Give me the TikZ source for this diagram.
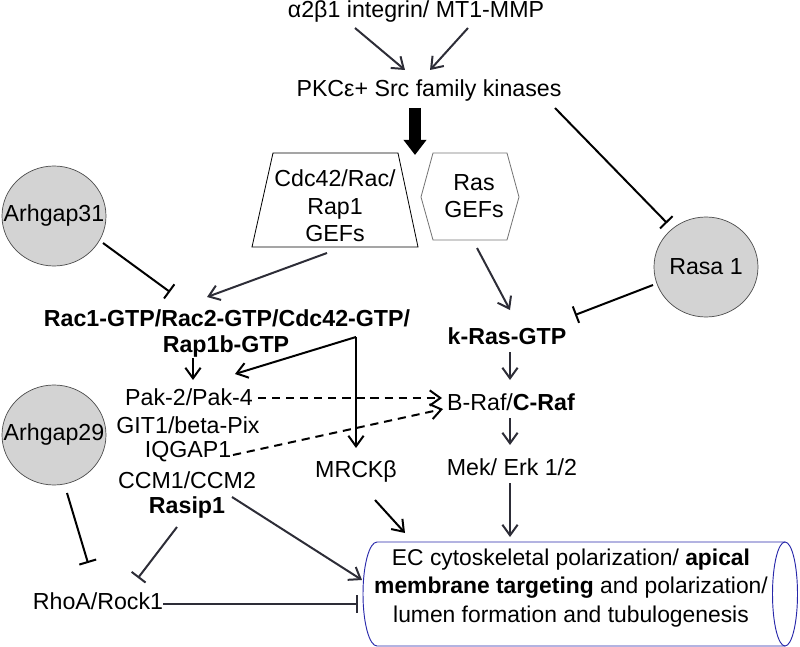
\documentclass[tikz,border=0pt]{standalone}
\usepackage{fontspec}
\setmainfont{Liberation Sans}
\usetikzlibrary{arrows, arrows.meta, calc, shapes.geometric}
\definecolor{lnk}{RGB}{45,45,55}
\definecolor{gapfill}{RGB}{211,211,211}
\definecolor{ecblue}{RGB}{40,40,170}
\tikzset{
  lbl/.style={inner sep=0pt, align=center, font=\fontsize{19.8}{23.6}\selectfont},
  act/.style={lnk, line width=1.7pt, -{Straight Barb[length=9pt,width=13pt]}},
  inh/.style={black, line width=1.7pt, -{Bar[width=15pt]}},
  dsh/.style={black, line width=1.7pt, dash pattern=on 7pt off 5pt, -{Straight Barb[length=9pt,width=13pt]}},
  gap/.style={ellipse, draw=black!70, fill=gapfill, line width=0.6pt, inner sep=0pt, minimum width=3.12cm, minimum height=3.0cm}
}

\begin{document}
\begin{tikzpicture}[x=0.03cm, y=-0.03cm]
\useasboundingbox (0,0) rectangle (800,647);
%\draw[step=50,gray,very thin] (0,0) grid (800,647); %background grid
\node[lbl] (integ) at (416,12) {α2β1 integrin/ MT1-MMP}; %top
\node[lbl] (pkc) at (429,91) {PKCε+ Src family kinases}; %kinases
\node[lbl] (cdcgef) at (335,206) {Cdc42/Rac/\\Rap1\\GEFs}; %trapezoid
\draw[black, line width=0.7pt] ($(cdcgef)+(-62,-53)$) -- ($(cdcgef)+(63,-53)$) -- ($(cdcgef)+(83,41)$) -- ($(cdcgef)+(-83,41)$) -- cycle;
\node[lbl] (rasgef) at (474,196) {Ras\\GEFs}; %hexagon
\draw[black!55, line width=0.7pt] ($(rasgef)+(-53,1)$) -- ++(12,-44) -- ++(74,0) -- ++(12,44) -- ++(-12,43) -- ++(-74,0) -- cycle;
\node[gap, label={[lbl]center:Arhgap31}] (arhgap31) at (54,216) {};
\node[gap, label={[lbl]center:Arhgap29}] (arhgap29) at (54,435) {};
\node[gap, label={[lbl]center:Rasa 1}] (rasa1) at (706,267) {};
\node[lbl] (rac) at (227,318) {\bfseries Rac1-GTP/Rac2-GTP/Cdc42-GTP/};
\node[lbl] (rap) at (226,347) {\bfseries Rap1b-GTP};
\node[lbl] (pak) at (189,397) {Pak-2/Pak-4};
\node[lbl] (git) at (188,425) {GIT1/beta-Pix};
\node[lbl] (iqgap) at (188,452) {IQGAP1};
\node[lbl] (ccm) at (187,480) {CCM1/CCM2};
\node[lbl] (rasip) at (187,508) {\bfseries Rasip1};
\node[lbl] (mrck) at (356,472) {MRCKβ};
\node[lbl] (kras) at (507,336) {\bfseries k-Ras-GTP};
\node[lbl] (braf) at (511,402) {B-Raf/\textbf{C-Raf}};
\node[lbl] (mek) at (512,467) {Mek/ Erk 1/2};
\node[lbl] (rhoa) at (98,601) {RhoA/Rock1};
% cylinder
\draw[ecblue, line width=0.8pt] (785,542) -- (377,542) arc[start angle=-90, end angle=-270, x radius=14, y radius=52] -- (785,646);
\draw[ecblue, line width=0.8pt] (785,594) ellipse[x radius=12.5, y radius=52];
\node[lbl, font=\fontsize{19.5}{24.5}\selectfont] (ec) at (571,588) {EC cytoskeletal polarization/ \textbf{apical}\\\textbf{membrane targeting} and polarization/\\lumen formation and tubulogenesis};
% connectors
\draw[act] ($(integ)+(-61,16)$) -- ($(pkc)+(-24,-21)$);
\draw[act] ($(integ)+(52,16)$) -- ($(pkc)+(1,-21)$);
\draw[black, line width=10pt, -{Triangle[length=13pt,width=19pt]}] ($(pkc)+(-14,17)$) -- ($(pkc)+(-14,64)$);
\draw[inh] ($(pkc)+(126,17)$) -- ($(rasa1)+(-39,-44)$);
\draw[act] ($(cdcgef)+(-8,47)$) -- ($(rac)+(-20,-21)$);
\draw[act] ($(rasgef)+(3,52)$) -- ($(kras)+(3,-26)$);
\draw[inh] ($(rasa1)+(-53,18)$) -- ($(kras)+(68,-21)$);
\draw[inh] ($(arhgap31)+(49,27)$) -- ($(rac)+(-57,-26)$);
\coordinate (split) at (356,337);
\draw[act, black] (split) -- ($(pak)+(46,-23)$);
\draw[act, black] (split) -- ($(mrck)+(0,-24)$);
\draw[act, black] ($(rap)+(-33,11)$) -- ($(pak)+(4,-17)$);
\draw[dsh] ($(pak)+(69,1)$) -- ($(braf)+(-69,-4)$);
\draw[dsh] ($(iqgap)+(45,3)$) -- ($(braf)+(-68,7)$);
\draw[act] ($(kras)+(3,16)$) -- ($(braf)+(-1,-22)$);
\draw[act] ($(braf)+(-1,16)$) -- ($(mek)+(-2,-22)$);
\draw[act] ($(mek)+(-2,16)$) -- ($(ec)+(-61,-51)$);
\draw[act, black] ($(mrck)+(19,28)$) -- ($(ec)+(-166,-55)$);
\draw[act] ($(ccm)+(45,17)$) -- ($(ec)+(-209,-8)$);
\draw[inh, lnk] ($(rasip)+(-10,19)$) -- ($(rhoa)+(40,-23)$);
\draw[inh] ($(arhgap29)+(13,58)$) -- ($(rhoa)+(-10,-38)$);
\draw[inh, lnk] ($(rhoa)+(65,3)$) -- ($(ec)+(-213,16)$);
\end{tikzpicture}
\end{document}
